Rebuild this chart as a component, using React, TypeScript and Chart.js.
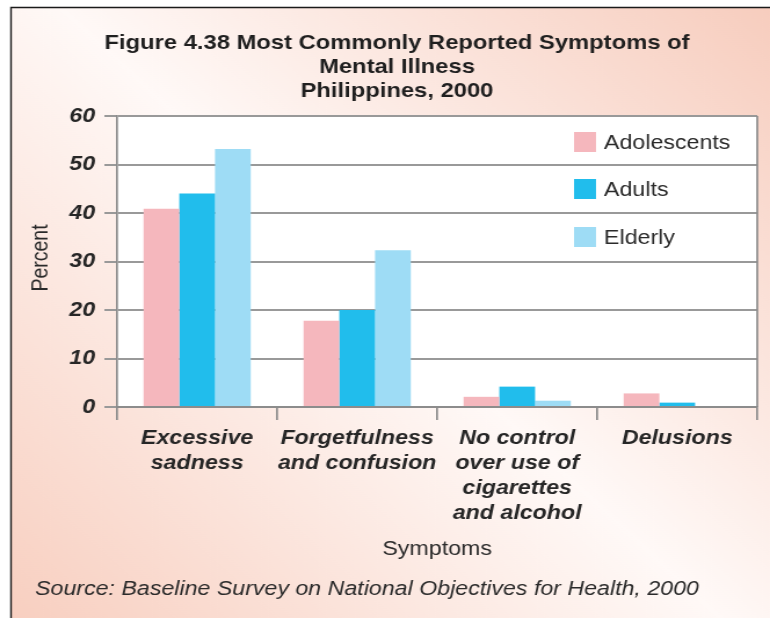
import React, { useEffect, useRef } from "react";
import { Chart, registerables } from "chart.js";

Chart.register(...registerables);

// ---------- data ----------
const categories: string[][] = [
  ["Excessive", "sadness"],
  ["Forgetfulness", "and confusion"],
  ["No control", "over use of", "cigarettes", "and alcohol"],
  ["Delusions"],
];
const seriesNames = ["Adolescents", "Adults", "Elderly"];
const adolescents = [40.9, 17.8, 2.1, 2.8];
const adults = [44.0, 20.0, 4.2, 0.9];
const elderly = [53.2, 32.3, 1.3, 0];
const seriesColors = ["#F5B7BD", "#21BDEC", "#9EDCF5"];
const yTickMin = 0;
const yTickMax = 60;
const yTickStep = 10;
const titleLines = [
  "Figure 4.38 Most Commonly Reported Symptoms of",
  "Mental Illness",
  "Philippines, 2000",
];
const xTitle = "Symptoms";
const yTitle = "Percent";
const sourceText = "Source: Baseline Survey on National Objectives for Health, 2000";

// ---------- layout ----------
const W = 770;
const H = 618;
const CW = 664; // canvas bitmap width; stretched horizontally to W
const S = W / CW;
const FONT = '"Liberation Sans", Arial, Helvetica, sans-serif';

const PLOT_LEFT = Math.round(117 / S);
const PLOT_RIGHT = Math.round(757 / S);
const PLOT_TOP = 116;
const PLOT_BOTTOM = 407;

const decorPlugin = {
  id: "decor",
  beforeDraw(chart: any) {
    const ctx = chart.ctx as CanvasRenderingContext2D;
    ctx.save();
    ctx.fillStyle = "#ffffff";
    ctx.fillRect(0, 0, CW, H);
    const fx = 11 / S;
    const fy = 7.5;
    const g = ctx.createLinearGradient(fx, H, CW, fy);
    g.addColorStop(0, "#F8CFC0");
    g.addColorStop(0.5, "#FFF9F7");
    g.addColorStop(1, "#F7CDBE");
    ctx.fillStyle = g;
    ctx.fillRect(fx, fy, CW - fx, H - fy);
    const ca = chart.chartArea;
    ctx.fillStyle = "#ffffff";
    ctx.fillRect(ca.left, ca.top, ca.right - ca.left, ca.bottom - ca.top);
    ctx.strokeStyle = "#1a1a1a";
    ctx.lineWidth = 1.4;
    ctx.beginPath();
    ctx.moveTo(fx, H);
    ctx.lineTo(fx, fy);
    ctx.lineTo(CW, fy);
    ctx.stroke();
    ctx.restore();
  },
  beforeDatasetsDraw(chart: any) {
    const ctx = chart.ctx as CanvasRenderingContext2D;
    const ca = chart.chartArea;
    ctx.save();
    ctx.strokeStyle = "#8c8c8c";
    ctx.lineWidth = 1.7;
    ctx.beginPath();
    ctx.moveTo(ca.right, ca.top);
    ctx.lineTo(ca.right, ca.bottom);
    ctx.stroke();
    ctx.restore();
  },
  afterDraw(chart: any) {
    const ctx = chart.ctx as CanvasRenderingContext2D;
    const ca = chart.chartArea;
    ctx.save();
    ctx.fillStyle = "#1f1f1f";
    ctx.textAlign = "center";
    ctx.textBaseline = "middle";
    ctx.font = `bold 20.5px ${FONT}`;
    const tx = 397 / S;
    [43, 67, 91].forEach((y, i) => ctx.fillText(titleLines[i], tx, y));
    // legend
    const boxX = 574 / S;
    const boxW = 22 / S;
    const textX = 604 / S;
    const ys = [142, 189, 237];
    ctx.font = `20px ${FONT}`;
    ctx.textAlign = "left";
    chart.data.datasets.forEach((ds: any, i: number) => {
      ctx.fillStyle = ds.backgroundColor;
      ctx.fillRect(boxX, ys[i] - 10, boxW, 20);
      ctx.fillStyle = "#2a2a2a";
      ctx.fillText(ds.label, textX, ys[i] + 1);
    });
    ctx.textAlign = "center";
    ctx.font = `20px ${FONT}`;
    ctx.fillStyle = "#2a2a2a";
    ctx.fillText(xTitle, (ca.left + ca.right) / 2, 549);
    ctx.save();
    ctx.translate(41 / S, 258);
    ctx.rotate(-Math.PI / 2);
    ctx.font = `19.5px ${FONT}`;
    ctx.fillText(yTitle, 0, 0);
    ctx.restore();
    ctx.textAlign = "left";
    ctx.font = `italic 20px ${FONT}`;
    ctx.fillStyle = "#2a2a2a";
    ctx.fillText(sourceText, 35 / S, 589);
    ctx.restore();
  },
};

export default function App() {
  const ref = useRef<HTMLCanvasElement | null>(null);

  useEffect(() => {
    if (!ref.current) return;
    const chart = new Chart(ref.current, {
      type: "bar",
      data: {
        labels: categories,
        datasets: [
          { label: seriesNames[0], data: adolescents, backgroundColor: seriesColors[0] },
          { label: seriesNames[1], data: adults, backgroundColor: seriesColors[1] },
          { label: seriesNames[2], data: elderly, backgroundColor: seriesColors[2] },
        ],
      },
      options: {
        animation: false,
        responsive: false,
        devicePixelRatio: 1,
        layout: {
          padding: { left: 0, right: CW - PLOT_RIGHT, top: PLOT_TOP, bottom: 0 },
        },
        datasets: {
          bar: { barPercentage: 1, categoryPercentage: 0.67, borderWidth: 0 },
        },
        plugins: {
          legend: { display: false },
          title: { display: false },
          tooltip: { enabled: false },
        },
        scales: {
          x: {
            offset: true,
            grid: {
              display: true,
              offset: true,
              drawOnChartArea: false,
              drawTicks: true,
              tickLength: 13,
              color: "#8c8c8c",
              lineWidth: 1.7,
            },
            border: { display: true, color: "#8c8c8c", width: 2 },
            ticks: {
              color: "#262626",
              padding: 6,
              maxRotation: 0,
              minRotation: 0,
              autoSkip: false,
              font: { family: FONT, size: 20, weight: "bold", style: "italic", lineHeight: 1.25 },
            },
            afterFit: (scale: any) => {
              scale.height = H - PLOT_BOTTOM;
            },
          },
          y: {
            min: yTickMin,
            max: yTickMax,
            grid: {
              color: "#999999",
              lineWidth: 2,
              drawTicks: true,
              tickLength: Math.round(13 / S),
            },
            border: { display: true, color: "#8c8c8c", width: 1.7 },
            ticks: {
              stepSize: yTickStep,
              color: "#262626",
              padding: 8,
              font: { family: FONT, size: 20, weight: "bold", style: "italic" },
            },
            afterFit: (scale: any) => {
              scale.width = PLOT_LEFT;
            },
          },
        },
      },
      plugins: [decorPlugin],
    } as any);
    return () => chart.destroy();
  }, []);

  return (
    <div style={{ position: "fixed", left: 0, top: 0, width: W, height: H, background: "#fff" }}>
      <canvas
        ref={ref}
        width={CW}
        height={H}
        style={{ width: `${W}px`, height: `${H}px`, display: "block" }}
      />
    </div>
  );
}
